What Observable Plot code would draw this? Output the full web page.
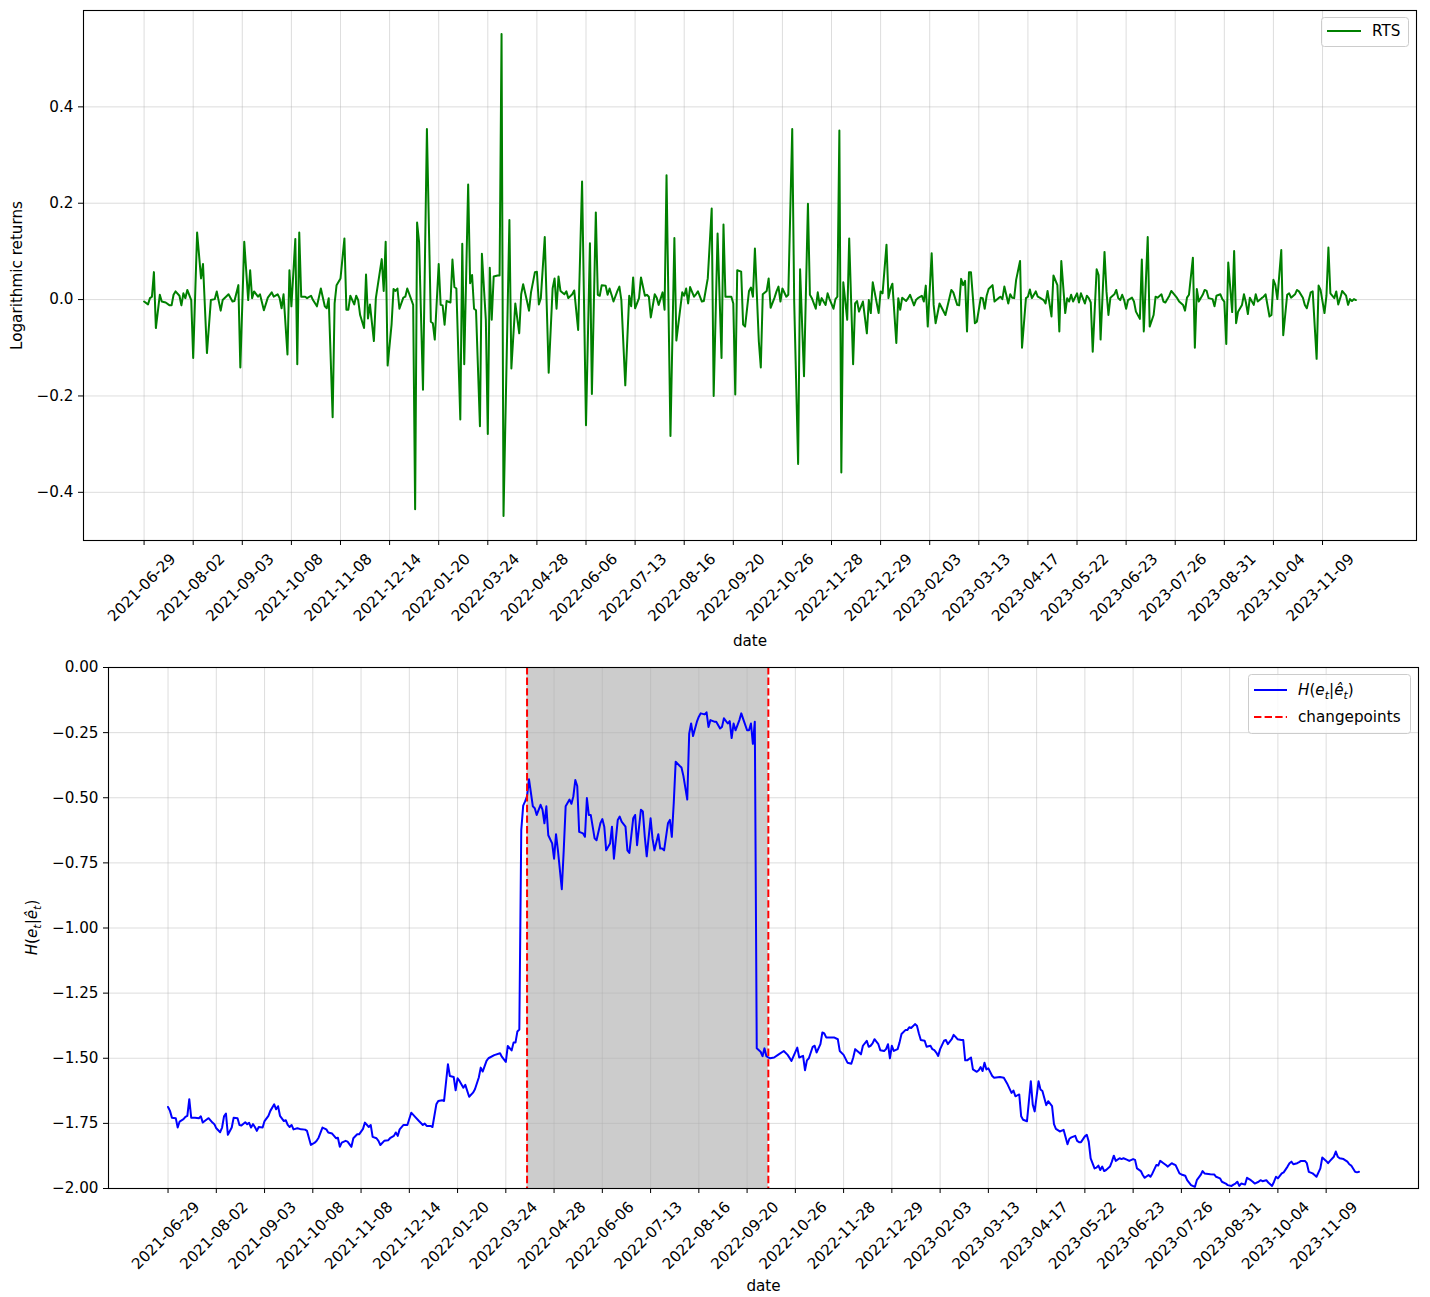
<!DOCTYPE html>
<html><head><meta charset="utf-8">
<script src="https://cdn.jsdelivr.net/npm/d3@7"></script>
<script src="https://cdn.jsdelivr.net/npm/@observablehq/plot@0.6"></script>
<style>
body{margin:0;background:#fff;}
#fig{position:relative;width:1430px;height:1297px;background:#fff;}
#top,#bottom{position:absolute;left:0;}
#top{top:0}
#bottom{top:650px}
</style></head><body><div id="fig"><div id="top"></div><div id="bottom"></div></div>
<script>
// ---- data ----
const tickDates = ["2021-06-29","2021-08-02","2021-09-03","2021-10-08","2021-11-08","2021-12-14","2022-01-20","2022-03-24","2022-04-28","2022-06-06","2022-07-13","2022-08-16","2022-09-20","2022-10-26","2022-11-28","2022-12-29","2023-02-03","2023-03-13","2023-04-17","2023-05-22","2023-06-23","2023-07-26","2023-08-31","2023-10-04","2023-11-09"];
const tickIndex = tickDates.map((_, i) => i * 25);
const rtsTicks = [-0.4, -0.2, 0, 0.2, 0.4];
const entropyTicks = [-2, -1.75, -1.5, -1.25, -1, -0.75, -0.5, -0.25, 0];
const changepoints = [186, 311];

// RTS logarithmic returns: [observation index, value]
const rtsReturns = [
[0,-0.004],[2,-0.01],[3,0.003],[4,0.006],[5,0.057],[6,-0.059],[8,0.01],[9,-0.004],[11,-0.006],[13,-0.012],[14,-0.012],[15,0.01],[16,0.017],[18,0.008],[19,-0.012],[20,0.013],[21,0.003],[22,0.02],[24,-0.001],[25,-0.121],[27,0.139],[29,0.044],[30,0.074],[32,-0.111],[34,-0.001],[36,0.001],[37,0.017],[39,-0.023],[40,-0.001],[43,0.011],[45,-0.004],[46,-0.003],[48,0.03],[49,-0.141],[51,0.12],[53,-0.001],[54,0.061],[55,0.003],[56,0.017],[58,0.006],[59,0.011],[61,-0.022],[63,0.004],[65,0.015],[66,0.006],[68,0.011],[69,0.003],[70,-0.018],[71,0.011],[73,-0.114],[74,0.061],[75,-0.014],[77,0.126],[78,-0.134],[79,0.139],[80,0.006],[82,0.006],[83,0.003],[85,0.008],[86,-0.001],[88,-0.014],[90,0.023],[92,-0.014],[93,-0.018],[94,0.003],[96,-0.244],[97,-0.008],[98,0.03],[100,0.044],[102,0.127],[103,-0.021],[104,-0.021],[105,0.008],[107,-0.01],[108,0.008],[109,-0.001],[110,-0.032],[112,-0.059],[113,0.052],[114,-0.039],[115,-0.01],[117,-0.086],[118,0.003],[121,0.084],[122,0.018],[123,0.12],[124,-0.137],[126,-0.052],[127,0.022],[128,0.018],[129,0.023],[130,-0.019],[132,0.004],[133,0.006],[134,0.023],[137,-0.011],[138,-0.435],[139,0.16],[140,0.12],[142,-0.187],[144,0.354],[146,-0.046],[147,-0.049],[148,-0.083],[150,0.074],[151,-0.011],[152,-0.012],[153,-0.052],[154,-0.003],[156,-0.006],[157,0.083],[158,0.026],[159,0.023],[161,-0.249],[162,0.116],[163,-0.134],[165,0.239],[166,0.034],[167,0.051],[168,-0.019],[169,-0.022],[171,-0.263],[172,0.095],[174,-0.042],[175,-0.279],[176,0.066],[177,-0.042],[178,0.048],[180,0.05],[181,0.05],[182,0.551],[183,-0.449],[186,0.165],[187,-0.143],[189,-0.008],[191,-0.07],[192,0.011],[193,0.032],[195,-0.004],[196,-0.023],[197,0.015],[199,0.057],[200,0.058],[201,-0.01],[202,0.003],[204,0.13],[206,-0.152],[208,0.023],[209,0.044],[210,-0.019],[211,0.048],[212,0.018],[214,0.011],[215,0.017],[216,0.003],[218,0.011],[219,0.019],[221,-0.063],[223,0.245],[225,-0.261],[227,0.117],[228,-0.196],[230,0.181],[231,0.01],[232,0.008],[233,0.03],[235,0.029],[236,0.01],[237,0.023],[238,0.01],[239,-0.004],[241,0.018],[242,0.027],[243,-0.001],[245,-0.178],[247,0.008],[248,-0.014],[249,0.046],[250,-0.018],[252,0.003],[253,0.046],[255,0.008],[256,0.01],[257,0.006],[258,-0.037],[260,0.011],[261,0.004],[262,-0.011],[264,0.015],[265,-0.021],[266,0.258],[268,-0.283],[270,0.128],[271,-0.085],[274,0.015],[275,0.008],[276,0.023],[277,-0.008],[278,0.026],[280,0.006],[281,0.011],[282,0.017],[284,-0.004],[285,-0.003],[287,0.044],[289,0.189],[290,-0.2],[292,0.137],[294,-0.121],[295,0.156],[296,0.006],[299,0.006],[300,-0.008],[301,-0.197],[302,0.061],[304,0.058],[305,-0.052],[306,-0.056],[308,0.018],[309,0.025],[310,0.006],[311,0.106],[313,-0.087],[314,-0.141],[315,0.011],[317,0.018],[318,0.044],[319,-0.017],[321,0.004],[322,0.017],[323,0.027],[324,-0.004],[325,0.023],[327,0.006],[328,0.01],[330,0.354],[331,-0.004],[333,-0.341],[334,0.063],[336,-0.159],[338,0.199],[339,0.01],[340,0.003],[342,-0.019],[343,0.015],[344,-0.011],[345,0.003],[347,-0.011],[348,0.013],[349,0.001],[351,-0.019],[352,0.001],[353,0.006],[354,0.351],[355,-0.359],[356,0.036],[358,-0.042],[359,0.127],[361,-0.134],[362,-0.008],[363,-0.003],[364,-0.025],[366,-0.004],[368,-0.07],[369,-0.001],[370,-0.028],[371,0.036],[374,-0.028],[375,0.017],[376,0.013],[378,0.114],[379,0.003],[380,0.023],[381,0.033],[383,-0.09],[384,0.003],[385,-0.021],[386,0.004],[388,-0.003],[389,0.003],[390,0.01],[392,-0.012],[393,-0.001],[394,0.003],[396,0.008],[397,-0.004],[398,0.029],[399,-0.056],[401,0.096],[402,-0.011],[403,-0.049],[405,-0.008],[408,-0.032],[411,0.02],[412,0.015],[414,-0.011],[415,-0.012],[416,0.043],[417,0.03],[418,0.039],[419,-0.066],[420,0.057],[421,0.057],[423,-0.049],[424,-0.046],[426,0.004],[427,0.003],[428,-0.019],[429,0.008],[430,0.022],[432,0.03],[433,-0.004],[435,0.003],[436,0.006],[437,0.001],[438,0.027],[440,-0.008],[441,0.011],[442,0.004],[443,0.003],[444,0.041],[446,0.08],[447,-0.1],[449,0.003],[450,0.006],[451,0.021],[452,0.003],[454,0.017],[455,0.006],[456,0.004],[458,-0.001],[459,-0.008],[460,0.018],[462,-0.035],[463,0.05],[465,0.03],[466,-0.066],[467,0.08],[469,-0.028],[470,0.003],[471,-0.004],[472,0.01],[473,-0.004],[475,0.013],[476,-0.006],[477,0.013],[479,-0.008],[480,0.008],[481,0.003],[482,-0.006],[483,-0.108],[485,0.063],[486,0.051],[487,-0.083],[489,0.099],[490,0.017],[491,-0.032],[492,0.004],[494,0.011],[495,0.02],[496,0.003],[497,-0.001],[498,0.01],[499,-0.001],[500,-0.019],[501,-0.001],[503,0.004],[504,-0.004],[505,-0.025],[507,-0.04],[508,0.083],[509,-0.066],[511,0.13],[512,-0.056],[514,-0.032],[515,0.006],[516,0.004],[518,0.011],[519,-0.004],[520,-0.006],[522,0.008],[523,0.018],[525,0.008],[526,0.003],[527,-0.004],[529,-0.011],[530,-0.023],[531,0.004],[532,0.01],[534,0.087],[535,-0.1],[536,0.022],[537,-0.004],[539,0.01],[540,0.02],[541,0.018],[542,0.003],[544,0.001],[545,-0.014],[546,0.008],[548,0.011],[549,0.001],[550,-0.004],[551,-0.092],[552,0.077],[554,-0.026],[555,0.101],[556,-0.049],[557,-0.025],[559,-0.011],[560,0.011],[561,-0.006],[562,-0.03],[563,0.004],[565,-0.011],[566,0.011],[567,-0.004],[569,0.003],[570,0.006],[571,0.011],[573,-0.035],[574,-0.032],[575,0.041],[576,0.03],[577,0.001],[579,0.103],[580,-0.074],[582,0.01],[583,0.013],[584,0.004],[586,0.011],[587,0.02],[588,0.017],[590,0.004],[591,-0.011],[592,-0.018],[594,0.015],[595,0.017],[597,-0.123],[598,0.029],[599,0.02],[601,-0.028],[602,0.008],[603,0.108],[604,0.013],[606,0.003],[607,0.017],[608,-0.01],[609,0.003],[610,0.018],[612,0.008],[613,-0.011],[614,0.001],[615,-0.003],[616,0.001],[617,-0.001]
];

// conditional entropy H(e_t | ê_t): [observation index, value]
const entropy = [
[0,-1.687],[1,-1.702],[2,-1.728],[4,-1.73],[5,-1.766],[6,-1.743],[8,-1.734],[9,-1.725],[10,-1.721],[11,-1.657],[12,-1.728],[14,-1.728],[16,-1.73],[17,-1.723],[18,-1.747],[20,-1.735],[21,-1.73],[23,-1.747],[24,-1.753],[25,-1.769],[27,-1.784],[28,-1.766],[29,-1.723],[30,-1.712],[31,-1.794],[33,-1.766],[34,-1.728],[36,-1.73],[37,-1.756],[38,-1.758],[40,-1.746],[41,-1.753],[42,-1.748],[43,-1.766],[44,-1.753],[45,-1.764],[46,-1.779],[47,-1.764],[49,-1.766],[50,-1.741],[52,-1.721],[53,-1.702],[55,-1.677],[56,-1.696],[57,-1.684],[58,-1.721],[60,-1.741],[61,-1.738],[62,-1.756],[63,-1.764],[64,-1.756],[65,-1.773],[67,-1.769],[69,-1.773],[71,-1.774],[72,-1.779],[74,-1.833],[76,-1.824],[77,-1.817],[78,-1.805],[80,-1.766],[82,-1.773],[83,-1.785],[85,-1.789],[87,-1.807],[88,-1.805],[89,-1.84],[90,-1.824],[92,-1.817],[93,-1.82],[95,-1.84],[96,-1.807],[98,-1.792],[99,-1.792],[101,-1.771],[102,-1.747],[104,-1.764],[105,-1.756],[106,-1.802],[108,-1.807],[109,-1.817],[110,-1.833],[112,-1.817],[114,-1.815],[115,-1.807],[117,-1.798],[118,-1.785],[119,-1.798],[120,-1.773],[122,-1.756],[124,-1.756],[126,-1.709],[128,-1.725],[130,-1.741],[132,-1.756],[133,-1.751],[134,-1.76],[136,-1.76],[137,-1.764],[139,-1.677],[140,-1.664],[142,-1.661],[143,-1.664],[145,-1.523],[146,-1.568],[148,-1.572],[149,-1.623],[150,-1.577],[151,-1.587],[153,-1.613],[154,-1.602],[156,-1.648],[158,-1.632],[159,-1.619],[161,-1.574],[162,-1.536],[163,-1.551],[165,-1.51],[166,-1.5],[169,-1.488],[172,-1.481],[173,-1.495],[175,-1.514],[176,-1.453],[178,-1.47],[179,-1.44],[180,-1.44],[181,-1.397],[182,-1.39],[183,-0.624],[184,-0.53],[185,-0.514],[186,-0.494],[187,-0.429],[189,-0.533],[190,-0.54],[191,-0.566],[193,-0.527],[194,-0.546],[195,-0.598],[196,-0.533],[197,-0.644],[199,-0.675],[200,-0.734],[201,-0.64],[202,-0.702],[204,-0.851],[205,-0.702],[206,-0.533],[208,-0.507],[209,-0.523],[210,-0.494],[211,-0.432],[212,-0.455],[213,-0.631],[215,-0.637],[216,-0.65],[217,-0.501],[218,-0.566],[219,-0.566],[221,-0.656],[222,-0.663],[224,-0.598],[225,-0.582],[226,-0.611],[227,-0.702],[229,-0.676],[230,-0.611],[231,-0.734],[233,-0.585],[234,-0.572],[235,-0.592],[237,-0.611],[238,-0.702],[239,-0.712],[241,-0.579],[242,-0.566],[243,-0.682],[245,-0.546],[246,-0.553],[247,-0.65],[248,-0.725],[250,-0.579],[251,-0.657],[252,-0.702],[254,-0.64],[255,-0.695],[256,-0.695],[257,-0.702],[259,-0.598],[260,-0.585],[261,-0.65],[262,-0.52],[263,-0.362],[265,-0.377],[266,-0.384],[267,-0.416],[269,-0.507],[270,-0.254],[271,-0.215],[272,-0.263],[274,-0.208],[275,-0.189],[276,-0.176],[278,-0.18],[279,-0.172],[280,-0.228],[281,-0.202],[283,-0.208],[284,-0.208],[286,-0.234],[287,-0.228],[288,-0.195],[290,-0.215],[291,-0.206],[292,-0.271],[293,-0.215],[294,-0.241],[296,-0.202],[297,-0.176],[298,-0.198],[300,-0.241],[301,-0.241],[302,-0.215],[303,-0.293],[304,-0.208],[305,-1.462],[307,-1.475],[308,-1.492],[309,-1.462],[310,-1.492],[311,-1.497],[312,-1.5],[314,-1.497],[316,-1.487],[319,-1.472],[321,-1.487],[323,-1.51],[326,-1.459],[327,-1.497],[329,-1.491],[330,-1.546],[331,-1.508],[332,-1.5],[334,-1.456],[335,-1.452],[336,-1.478],[338,-1.446],[339,-1.401],[340,-1.405],[341,-1.42],[343,-1.42],[345,-1.42],[347,-1.427],[348,-1.472],[350,-1.487],[352,-1.517],[354,-1.521],[355,-1.497],[356,-1.465],[358,-1.478],[359,-1.485],[360,-1.452],[362,-1.433],[363,-1.456],[364,-1.452],[365,-1.443],[366,-1.427],[368,-1.446],[369,-1.469],[371,-1.472],[372,-1.465],[373,-1.446],[374,-1.5],[375,-1.452],[376,-1.472],[378,-1.465],[379,-1.439],[380,-1.407],[382,-1.392],[383,-1.392],[384,-1.381],[385,-1.384],[387,-1.369],[388,-1.375],[389,-1.405],[390,-1.43],[392,-1.433],[393,-1.456],[395,-1.452],[396,-1.465],[397,-1.469],[398,-1.478],[399,-1.491],[400,-1.465],[402,-1.433],[403,-1.43],[404,-1.446],[406,-1.427],[407,-1.41],[408,-1.418],[409,-1.427],[411,-1.43],[412,-1.43],[413,-1.508],[414,-1.508],[416,-1.497],[417,-1.543],[419,-1.552],[420,-1.546],[421,-1.534],[422,-1.549],[423,-1.517],[424,-1.543],[425,-1.539],[427,-1.568],[428,-1.575],[431,-1.572],[433,-1.575],[435,-1.601],[437,-1.633],[438,-1.624],[439,-1.646],[441,-1.639],[442,-1.723],[443,-1.736],[445,-1.742],[446,-1.665],[447,-1.588],[448,-1.678],[449,-1.704],[451,-1.588],[452,-1.62],[453,-1.626],[455,-1.68],[456,-1.665],[458,-1.684],[459,-1.753],[460,-1.771],[462,-1.781],[463,-1.778],[464,-1.775],[466,-1.83],[467,-1.809],[468,-1.804],[470,-1.798],[471,-1.817],[472,-1.822],[473,-1.822],[475,-1.8],[476,-1.794],[477,-1.82],[478,-1.884],[480,-1.923],[481,-1.92],[482,-1.912],[483,-1.929],[484,-1.916],[485,-1.933],[486,-1.929],[488,-1.916],[489,-1.897],[490,-1.874],[491,-1.894],[493,-1.884],[494,-1.887],[495,-1.884],[497,-1.89],[498,-1.894],[500,-1.887],[501,-1.89],[502,-1.923],[504,-1.933],[505,-1.948],[506,-1.959],[508,-1.948],[509,-1.955],[510,-1.942],[512,-1.91],[513,-1.912],[514,-1.894],[515,-1.899],[517,-1.91],[518,-1.916],[520,-1.903],[521,-1.907],[522,-1.91],[524,-1.942],[525,-1.946],[527,-1.951],[528,-1.968],[530,-1.987],[532,-1.994],[533,-1.968],[535,-1.948],[536,-1.933],[537,-1.942],[540,-1.945],[542,-1.946],[543,-1.955],[545,-1.961],[546,-1.974],[548,-1.981],[549,-1.987],[551,-1.99],[552,-1.985],[553,-1.981],[554,-1.974],[555,-1.99],[556,-1.981],[558,-1.985],[559,-1.959],[561,-1.968],[562,-1.974],[563,-1.981],[565,-1.974],[566,-1.968],[567,-1.972],[569,-1.968],[570,-1.977],[572,-1.99],[573,-1.974],[574,-1.955],[575,-1.961],[577,-1.942],[578,-1.938],[580,-1.916],[581,-1.903],[582,-1.897],[583,-1.907],[585,-1.903],[586,-1.899],[587,-1.894],[589,-1.894],[590,-1.903],[591,-1.936],[593,-1.942],[594,-1.948],[595,-1.955],[597,-1.923],[598,-1.881],[600,-1.894],[601,-1.903],[602,-1.894],[604,-1.878],[605,-1.858],[606,-1.878],[607,-1.884],[609,-1.887],[611,-1.897],[612,-1.907],[613,-1.912],[615,-1.936],[616,-1.938],[617,-1.936]
];

// ---- style ----
const FONT = "DejaVu Sans";
const FS = 15.2;
const xDomain = [-30.85, 647.85];
const gridStyle = {stroke: "#b0b0b0", strokeOpacity: 0.55, strokeWidth: 0.8};

function xAxisMarks(labelDy) {
  return [
    Plot.axisX({ticks: tickIndex, tickSize: 5, tickFormat: () => "", label: null}),
    Plot.text(tickIndex, {x: d => d, text: (d, i) => tickDates[i], frameAnchor: "bottom",
      rotate: -45, textAnchor: "end", lineAnchor: "middle", dx: 29, dy: 16, fontSize: FS}),
    Plot.text(["date"], {text: d => d, frameAnchor: "bottom", textAnchor: "middle", dy: labelDy, fontSize: FS})
  ];
}

// ---- top panel ----
const topPlot = Plot.plot({
  width: 1430, height: 650,
  marginLeft: 83, marginRight: 14, marginTop: 10, marginBottom: 110,
  style: {fontFamily: FONT, fontSize: FS + "px", background: "white", color: "black", overflow: "visible"},
  x: {domain: xDomain},
  y: {domain: [-0.5, 0.6]},
  marks: [
    Plot.ruleX(tickIndex, gridStyle),
    Plot.ruleY(rtsTicks, gridStyle),
    Plot.line(rtsReturns, {x: d => d[0], y: d => d[1], stroke: "green", strokeWidth: 2}),
    ...xAxisMarks(105),
    Plot.axisY({ticks: rtsTicks, tickFormat: d3.format(".1f"), tickSize: 5, tickPadding: 5, label: null, fontSize: FS}),
    Plot.text(["Logarithmic returns"], {text: d => d, frameAnchor: "left", textAnchor: "middle", dx: -66, rotate: -90, fontSize: FS}),
    Plot.frame({stroke: "black", strokeWidth: 1.1})
  ]
});
document.getElementById("top").appendChild(topPlot);

// ---- bottom panel ----
const bottomPlot = Plot.plot({
  width: 1430, height: 647,
  marginLeft: 108, marginRight: 12, marginTop: 17, marginBottom: 109,
  style: {fontFamily: FONT, fontSize: FS + "px", background: "white", color: "black", overflow: "visible"},
  x: {domain: xDomain},
  y: {domain: [-2, 0]},
  marks: [
    Plot.rect([changepoints], {x1: d => d[0], x2: d => d[1], fill: "gray", fillOpacity: 0.4}),
    Plot.ruleX(tickIndex, gridStyle),
    Plot.ruleY(entropyTicks, gridStyle),
    Plot.line(entropy, {x: d => d[0], y: d => d[1], stroke: "blue", strokeWidth: 2, clip: true}),
    Plot.ruleX(changepoints, {stroke: "red", strokeWidth: 2, strokeDasharray: "7.4,3.2"}),
    ...xAxisMarks(102),
    Plot.axisY({ticks: entropyTicks, tickFormat: d3.format(".2f"), tickSize: 5, tickPadding: 5, label: null, fontSize: FS}),
    Plot.frame({stroke: "black", strokeWidth: 1.1})
  ]
});
document.getElementById("bottom").appendChild(bottomPlot);

// math label H(e_t | ê_t)
function mathLabel(sel) {
  const parts = [["H", true, 0], ["(", false, 0], ["e", true, 0], ["t", true, 1], ["|", false, 0],
                 ["ê", true, 0], ["t", true, 1], [")", false, 0]];
  let prevSub = 0;
  for (const [s, it, sub] of parts) {
    const t = sel.append("tspan").text(s).attr("font-style", it ? "italic" : "normal");
    const shift = (sub - prevSub) * 3.8;
    if (shift) t.attr("dy", shift);
    if (sub) t.attr("font-size", FS * 0.72);
    prevSub = sub;
  }
  return sel;
}

// y label bottom
const bsvg = d3.select(bottomPlot);
bsvg.append("text")
  .attr("transform", `translate(32,${17 + 521 / 2}) rotate(-90)`)
  .attr("text-anchor", "middle").attr("dy", "0.35em")
  .attr("font-family", FONT).attr("font-size", FS).attr("fill", "black")
  .call(mathLabel);

// legends
function legendBox(svg, x, y, w, h) {
  svg.append("rect").attr("x", x).attr("y", y).attr("width", w).attr("height", h)
    .attr("rx", 3).attr("fill", "white").attr("fill-opacity", 0.8)
    .attr("stroke", "#cccccc").attr("stroke-width", 1);
}
const tsvg = d3.select(topPlot);
legendBox(tsvg, 1321.5, 17.5, 87, 29);
tsvg.append("line").attr("x1", 1327).attr("x2", 1361).attr("y1", 31).attr("y2", 31)
  .attr("stroke", "green").attr("stroke-width", 2);
tsvg.append("text").attr("x", 1372).attr("y", 31).attr("dy", "0.35em").attr("text-anchor", "start")
  .attr("font-family", FONT).attr("font-size", FS).attr("fill", "black").text("RTS");

legendBox(bsvg, 1248.5, 24.5, 162, 59);
bsvg.append("line").attr("x1", 1254).attr("x2", 1287).attr("y1", 40).attr("y2", 40)
  .attr("stroke", "blue").attr("stroke-width", 2);
bsvg.append("text").attr("x", 1298).attr("y", 40).attr("dy", "0.35em").attr("text-anchor", "start")
  .attr("font-family", FONT).attr("font-size", FS).attr("fill", "black").call(mathLabel);
bsvg.append("line").attr("x1", 1254).attr("x2", 1287).attr("y1", 67).attr("y2", 67)
  .attr("stroke", "red").attr("stroke-width", 2).attr("stroke-dasharray", "7.4,3.2");
bsvg.append("text").attr("x", 1298).attr("y", 67).attr("dy", "0.35em").attr("text-anchor", "start")
  .attr("font-family", FONT).attr("font-size", FS).attr("fill", "black").text("changepoints");
</script>
</body></html>
